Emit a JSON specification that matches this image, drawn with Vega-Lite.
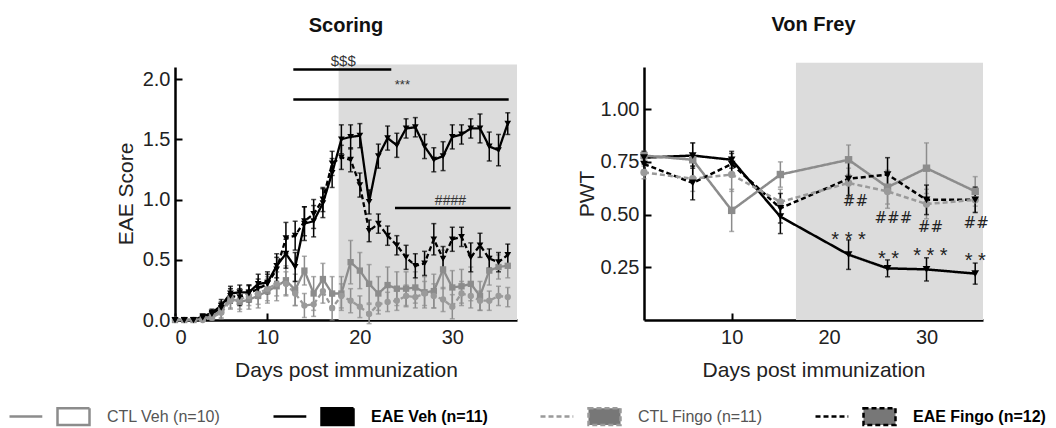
{
 "$schema": "https://vega.github.io/schema/vega-lite/v6.json",
 "padding": {"left": 8, "top": 14, "right": 4, "bottom": 4},
 "background": "white",
 "config": {
  "view": {"stroke": null},
  "font": "Liberation Sans",
  "axis": {"grid": false, "domainColor": "#000", "domainWidth": 2.5, "tickColor": "#000", "tickWidth": 2, "tickSize": -7, "labelFontSize": 20, "labelColor": "#222", "titleFontSize": 21, "titleFontWeight": "normal", "titleColor": "#222", "labelPadding": 12, "labelFont": "Liberation Sans", "titleFont": "Liberation Sans"},
  "axisX": {"labelPadding": 14, "titlePadding": 12},
  "title": {"fontSize": 20, "fontWeight": "bold", "color": "#111", "font": "Liberation Sans"}
 },
 "datasets": {
  "score": [
   {"day":0,"group":"EAE Veh","mean":0,"err":0},{"day":1,"group":"EAE Veh","mean":0,"err":0},{"day":2,"group":"EAE Veh","mean":0,"err":0},{"day":3,"group":"EAE Veh","mean":0.03,"err":0.02},{"day":4,"group":"EAE Veh","mean":0.06,"err":0.03},{"day":5,"group":"EAE Veh","mean":0.12,"err":0.05},{"day":6,"group":"EAE Veh","mean":0.22,"err":0.06},{"day":7,"group":"EAE Veh","mean":0.23,"err":0.06},{"day":8,"group":"EAE Veh","mean":0.23,"err":0.06},{"day":9,"group":"EAE Veh","mean":0.3,"err":0.08},{"day":10,"group":"EAE Veh","mean":0.31,"err":0.09},{"day":11,"group":"EAE Veh","mean":0.45,"err":0.1},{"day":12,"group":"EAE Veh","mean":0.55,"err":0.12},{"day":13,"group":"EAE Veh","mean":0.44,"err":0.12},{"day":14,"group":"EAE Veh","mean":0.8,"err":0.14},{"day":15,"group":"EAE Veh","mean":0.82,"err":0.13},{"day":16,"group":"EAE Veh","mean":0.97,"err":0.12},{"day":17,"group":"EAE Veh","mean":1.22,"err":0.12},{"day":18,"group":"EAE Veh","mean":1.5,"err":0.12},{"day":19,"group":"EAE Veh","mean":1.52,"err":0.1},{"day":20,"group":"EAE Veh","mean":1.53,"err":0.1},{"day":21,"group":"EAE Veh","mean":0.98,"err":0.1},{"day":22,"group":"EAE Veh","mean":1.36,"err":0.1},{"day":23,"group":"EAE Veh","mean":1.51,"err":0.1},{"day":24,"group":"EAE Veh","mean":1.45,"err":0.1},{"day":25,"group":"EAE Veh","mean":1.59,"err":0.08},{"day":26,"group":"EAE Veh","mean":1.6,"err":0.08},{"day":27,"group":"EAE Veh","mean":1.44,"err":0.1},{"day":28,"group":"EAE Veh","mean":1.33,"err":0.1},{"day":29,"group":"EAE Veh","mean":1.36,"err":0.12},{"day":30,"group":"EAE Veh","mean":1.52,"err":0.1},{"day":31,"group":"EAE Veh","mean":1.54,"err":0.08},{"day":32,"group":"EAE Veh","mean":1.59,"err":0.08},{"day":33,"group":"EAE Veh","mean":1.59,"err":0.12},{"day":34,"group":"EAE Veh","mean":1.44,"err":0.12},{"day":35,"group":"EAE Veh","mean":1.41,"err":0.13},{"day":36,"group":"EAE Veh","mean":1.63,"err":0.09},
   {"day":0,"group":"EAE Fingo","mean":0,"err":0},{"day":1,"group":"EAE Fingo","mean":0,"err":0},{"day":2,"group":"EAE Fingo","mean":0,"err":0},{"day":3,"group":"EAE Fingo","mean":0.02,"err":0.02},{"day":4,"group":"EAE Fingo","mean":0.05,"err":0.03},{"day":5,"group":"EAE Fingo","mean":0.1,"err":0.05},{"day":6,"group":"EAE Fingo","mean":0.2,"err":0.06},{"day":7,"group":"EAE Fingo","mean":0.19,"err":0.07},{"day":8,"group":"EAE Fingo","mean":0.22,"err":0.07},{"day":9,"group":"EAE Fingo","mean":0.26,"err":0.08},{"day":10,"group":"EAE Fingo","mean":0.3,"err":0.08},{"day":11,"group":"EAE Fingo","mean":0.42,"err":0.1},{"day":12,"group":"EAE Fingo","mean":0.68,"err":0.13},{"day":13,"group":"EAE Fingo","mean":0.7,"err":0.12},{"day":14,"group":"EAE Fingo","mean":0.82,"err":0.12},{"day":15,"group":"EAE Fingo","mean":0.88,"err":0.12},{"day":16,"group":"EAE Fingo","mean":1.0,"err":0.1},{"day":17,"group":"EAE Fingo","mean":1.3,"err":0.1},{"day":18,"group":"EAE Fingo","mean":1.35,"err":0.1},{"day":19,"group":"EAE Fingo","mean":1.33,"err":0.1},{"day":20,"group":"EAE Fingo","mean":1.12,"err":0.1},{"day":21,"group":"EAE Fingo","mean":0.74,"err":0.09},{"day":22,"group":"EAE Fingo","mean":0.8,"err":0.08},{"day":23,"group":"EAE Fingo","mean":0.7,"err":0.08},{"day":24,"group":"EAE Fingo","mean":0.62,"err":0.08},{"day":25,"group":"EAE Fingo","mean":0.52,"err":0.1},{"day":26,"group":"EAE Fingo","mean":0.45,"err":0.1},{"day":27,"group":"EAE Fingo","mean":0.47,"err":0.1},{"day":28,"group":"EAE Fingo","mean":0.67,"err":0.13},{"day":29,"group":"EAE Fingo","mean":0.51,"err":0.1},{"day":30,"group":"EAE Fingo","mean":0.67,"err":0.1},{"day":31,"group":"EAE Fingo","mean":0.69,"err":0.08},{"day":32,"group":"EAE Fingo","mean":0.52,"err":0.12},{"day":33,"group":"EAE Fingo","mean":0.62,"err":0.1},{"day":34,"group":"EAE Fingo","mean":0.51,"err":0.08},{"day":35,"group":"EAE Fingo","mean":0.48,"err":0.08},{"day":36,"group":"EAE Fingo","mean":0.54,"err":0.09},
   {"day":0,"group":"CTL Veh","mean":0,"err":0.01},{"day":1,"group":"CTL Veh","mean":0,"err":0.01},{"day":2,"group":"CTL Veh","mean":0,"err":0.01},{"day":3,"group":"CTL Veh","mean":0.01,"err":0.02},{"day":4,"group":"CTL Veh","mean":0.03,"err":0.03},{"day":5,"group":"CTL Veh","mean":0.08,"err":0.06},{"day":6,"group":"CTL Veh","mean":0.18,"err":0.08},{"day":7,"group":"CTL Veh","mean":0.15,"err":0.08},{"day":8,"group":"CTL Veh","mean":0.17,"err":0.08},{"day":9,"group":"CTL Veh","mean":0.2,"err":0.1},{"day":10,"group":"CTL Veh","mean":0.24,"err":0.1},{"day":11,"group":"CTL Veh","mean":0.28,"err":0.12},{"day":12,"group":"CTL Veh","mean":0.33,"err":0.12},{"day":13,"group":"CTL Veh","mean":0.25,"err":0.13},{"day":14,"group":"CTL Veh","mean":0.41,"err":0.12},{"day":15,"group":"CTL Veh","mean":0.22,"err":0.14},{"day":16,"group":"CTL Veh","mean":0.34,"err":0.13},{"day":17,"group":"CTL Veh","mean":0.22,"err":0.14},{"day":18,"group":"CTL Veh","mean":0.22,"err":0.14},{"day":19,"group":"CTL Veh","mean":0.48,"err":0.18},{"day":20,"group":"CTL Veh","mean":0.41,"err":0.15},{"day":21,"group":"CTL Veh","mean":0.3,"err":0.16},{"day":22,"group":"CTL Veh","mean":0.22,"err":0.14},{"day":23,"group":"CTL Veh","mean":0.29,"err":0.15},{"day":24,"group":"CTL Veh","mean":0.26,"err":0.14},{"day":25,"group":"CTL Veh","mean":0.26,"err":0.14},{"day":26,"group":"CTL Veh","mean":0.27,"err":0.13},{"day":27,"group":"CTL Veh","mean":0.23,"err":0.13},{"day":28,"group":"CTL Veh","mean":0.24,"err":0.14},{"day":29,"group":"CTL Veh","mean":0.42,"err":0.16},{"day":30,"group":"CTL Veh","mean":0.27,"err":0.14},{"day":31,"group":"CTL Veh","mean":0.28,"err":0.14},{"day":32,"group":"CTL Veh","mean":0.3,"err":0.14},{"day":33,"group":"CTL Veh","mean":0.2,"err":0.12},{"day":34,"group":"CTL Veh","mean":0.41,"err":0.12},{"day":35,"group":"CTL Veh","mean":0.44,"err":0.1},{"day":36,"group":"CTL Veh","mean":0.45,"err":0.1},
   {"day":0,"group":"CTL Fingo","mean":0,"err":0.01},{"day":1,"group":"CTL Fingo","mean":0,"err":0.01},{"day":2,"group":"CTL Fingo","mean":0,"err":0.01},{"day":3,"group":"CTL Fingo","mean":0,"err":0.01},{"day":4,"group":"CTL Fingo","mean":0.02,"err":0.02},{"day":5,"group":"CTL Fingo","mean":0.06,"err":0.05},{"day":6,"group":"CTL Fingo","mean":0.16,"err":0.07},{"day":7,"group":"CTL Fingo","mean":0.17,"err":0.08},{"day":8,"group":"CTL Fingo","mean":0.2,"err":0.08},{"day":9,"group":"CTL Fingo","mean":0.22,"err":0.09},{"day":10,"group":"CTL Fingo","mean":0.26,"err":0.1},{"day":11,"group":"CTL Fingo","mean":0.3,"err":0.1},{"day":12,"group":"CTL Fingo","mean":0.3,"err":0.1},{"day":13,"group":"CTL Fingo","mean":0.22,"err":0.1},{"day":14,"group":"CTL Fingo","mean":0.12,"err":0.1},{"day":15,"group":"CTL Fingo","mean":0.13,"err":0.1},{"day":16,"group":"CTL Fingo","mean":0.24,"err":0.1},{"day":17,"group":"CTL Fingo","mean":0.1,"err":0.1},{"day":18,"group":"CTL Fingo","mean":0.2,"err":0.1},{"day":19,"group":"CTL Fingo","mean":0.16,"err":0.1},{"day":20,"group":"CTL Fingo","mean":0.11,"err":0.09},{"day":21,"group":"CTL Fingo","mean":0.05,"err":0.08},{"day":22,"group":"CTL Fingo","mean":0.13,"err":0.08},{"day":23,"group":"CTL Fingo","mean":0.15,"err":0.08},{"day":24,"group":"CTL Fingo","mean":0.16,"err":0.08},{"day":25,"group":"CTL Fingo","mean":0.2,"err":0.09},{"day":26,"group":"CTL Fingo","mean":0.19,"err":0.09},{"day":27,"group":"CTL Fingo","mean":0.22,"err":0.1},{"day":28,"group":"CTL Fingo","mean":0.2,"err":0.1},{"day":29,"group":"CTL Fingo","mean":0.17,"err":0.1},{"day":30,"group":"CTL Fingo","mean":0.11,"err":0.1},{"day":31,"group":"CTL Fingo","mean":0.22,"err":0.1},{"day":32,"group":"CTL Fingo","mean":0.2,"err":0.1},{"day":33,"group":"CTL Fingo","mean":0.16,"err":0.08},{"day":34,"group":"CTL Fingo","mean":0.16,"err":0.08},{"day":35,"group":"CTL Fingo","mean":0.2,"err":0.08},{"day":36,"group":"CTL Fingo","mean":0.19,"err":0.08}
  ],
  "vf": [
   {"day":1,"group":"EAE Veh","mean":0.77,"err":0.03},{"day":6,"group":"EAE Veh","mean":0.78,"err":0.06},{"day":10,"group":"EAE Veh","mean":0.76,"err":0.04},{"day":15,"group":"EAE Veh","mean":0.49,"err":0.08},{"day":22,"group":"EAE Veh","mean":0.31,"err":0.07},{"day":26,"group":"EAE Veh","mean":0.245,"err":0.04},{"day":30,"group":"EAE Veh","mean":0.24,"err":0.055},{"day":35,"group":"EAE Veh","mean":0.22,"err":0.05},
   {"day":1,"group":"CTL Veh","mean":0.78,"err":0.02},{"day":6,"group":"CTL Veh","mean":0.76,"err":0.08},{"day":10,"group":"CTL Veh","mean":0.52,"err":0.1},{"day":15,"group":"CTL Veh","mean":0.69,"err":0.06},{"day":22,"group":"CTL Veh","mean":0.76,"err":0.07},{"day":26,"group":"CTL Veh","mean":0.63,"err":0.08},{"day":30,"group":"CTL Veh","mean":0.72,"err":0.12},{"day":35,"group":"CTL Veh","mean":0.61,"err":0.07},
   {"day":1,"group":"EAE Fingo","mean":0.74,"err":0.03},{"day":6,"group":"EAE Fingo","mean":0.65,"err":0.08},{"day":10,"group":"EAE Fingo","mean":0.74,"err":0.05},{"day":15,"group":"EAE Fingo","mean":0.53,"err":0.07},{"day":22,"group":"EAE Fingo","mean":0.67,"err":0.08},{"day":26,"group":"EAE Fingo","mean":0.69,"err":0.08},{"day":30,"group":"EAE Fingo","mean":0.57,"err":0.07},{"day":35,"group":"EAE Fingo","mean":0.57,"err":0.06},
   {"day":1,"group":"CTL Fingo","mean":0.7,"err":0.03},{"day":6,"group":"CTL Fingo","mean":0.67,"err":0.06},{"day":10,"group":"CTL Fingo","mean":0.69,"err":0.08},{"day":15,"group":"CTL Fingo","mean":0.56,"err":0.06},{"day":22,"group":"CTL Fingo","mean":0.65,"err":0.07},{"day":26,"group":"CTL Fingo","mean":0.61,"err":0.08},{"day":30,"group":"CTL Fingo","mean":0.55,"err":0.07},{"day":35,"group":"CTL Fingo","mean":0.57,"err":0.06}
  ],
  "scoreRect": [{"x":17.7,"x2":37,"y":0,"y2":2.12}],
  "vfRect": [{"x":16.6,"x2":35.8,"y":0,"y2":1.22}],
  "scoreSpans": [{"x":12.8,"x2":23.4,"y":2.08},{"x":12.8,"x2":36.1,"y":1.83},{"x":23.8,"x2":36.3,"y":0.93}],
  "scoreText": [{"x":18.2,"y":2.15,"text":"$$$","size":15},{"x":24.6,"y":1.95,"text":"***","size":13},{"x":29.8,"y":0.99,"text":"####","size":14}],
  "vfHash": [{"x":22.7,"y":0.566,"text":"##"},{"x":26.6,"y":0.486,"text":"###"},{"x":30.4,"y":0.443,"text":"##"},{"x":35.1,"y":0.462,"text":"##"}],
  "vfStar": [{"x":22,"y":0.41,"text":"* * *"},{"x":26.1,"y":0.316,"text":"* *"},{"x":30.4,"y":0.33,"text":"* * *"},{"x":35,"y":0.307,"text":"* *"}]
 },
 "spacing": 59,
 "resolve": {"scale": {"color": "shared", "strokeDash": "shared"}, "legend": {"color": "shared", "strokeDash": "shared"}},
 "hconcat": [
  {
   "width": 342, "height": 253,
   "title": {"text": "Scoring", "offset": 18},
   "encoding": {
    "x": {"field": "day", "type": "quantitative", "title": "Days post immunization"},
    "y": {"field": "mean", "type": "quantitative", "title": "EAE Score"}
   },
   "layer": [
    {"data": {"name": "scoreRect"}, "mark": {"type": "rect", "color": "#dcdcdc"},
     "encoding": {
      "x": {"field": "x", "type": "quantitative", "title": "Days post immunization", "scale": {"domain": [0, 37], "nice": false, "zero": false}, "axis": {"values": [0, 10, 20, 30]}},
      "x2": {"field": "x2"},
      "y": {"field": "y", "type": "quantitative", "title": "EAE Score", "scale": {"domain": [0, 2.1], "nice": false}, "axis": {"values": [0, 0.5, 1, 1.5, 2], "format": ".1f", "titlePadding": 6}},
      "y2": {"field": "y2"}}},
    {"data": {"name": "score"}, "transform": [{"filter": "indexof(datum.group, 'CTL') >= 0"}],
     "mark": {"type": "errorbar", "ticks": true, "color": "#8c8c8c", "thickness": 1.5},
     "encoding": {"yError": {"field": "err"}}},
    {"data": {"name": "score"}, "transform": [{"filter": "indexof(datum.group, 'EAE') >= 0"}],
     "mark": {"type": "errorbar", "ticks": true, "color": "#000", "thickness": 1.5},
     "encoding": {"yError": {"field": "err"}}},
    {"data": {"name": "score"}, "mark": {"type": "line", "strokeWidth": 2.3},
     "encoding": {
      "color": {"field": "group", "type": "nominal", "scale": {"domain": ["CTL Veh", "EAE Veh", "CTL Fingo", "EAE Fingo"], "range": ["#8c8c8c", "#000000", "#9a9a9a", "#000000"]},
       "legend": {"orient": "none", "legendX": -167, "legendY": 308, "direction": "horizontal", "columns": 4, "title": null, "symbolType": "M-1,0H-0.18M0.2,-0.21H1V0.21H0.2Z", "symbolSize": 6400, "symbolStrokeWidth": 2.5, "labelFontSize": 16, "labelFont": "Liberation Sans", "columnPadding": 47, "labelOffset": 16,
        "labelExpr": "datum.label == 'CTL Veh' ? 'CTL Veh (n=10)' : datum.label == 'EAE Veh' ? 'EAE Veh (n=11)' : datum.label == 'CTL Fingo' ? 'CTL Fingo (n=11)' : 'EAE Fingo (n=12)'",
        "encode": {"symbols": {"update": {"fill": {"signal": "datum.value == 'CTL Veh' ? '#ffffff' : datum.value == 'EAE Veh' ? '#000000' : '#777777'"}, "fillOpacity": {"value": 1}}}, "labels": {"update": {"fill": {"signal": "indexof(datum.label, 'EAE') >= 0 ? '#000' : '#555'"}, "fontWeight": {"signal": "indexof(datum.label, 'EAE') >= 0 ? 'bold' : 'normal'"}}}}}},
      "strokeDash": {"field": "group", "type": "nominal", "scale": {"domain": ["CTL Veh", "EAE Veh", "CTL Fingo", "EAE Fingo"], "range": [[1, 0], [1, 0], [5, 3], [5, 3]]},
       "legend": {"orient": "none", "legendX": -167, "legendY": 308, "direction": "horizontal", "columns": 4, "title": null, "symbolType": "M-1,0H-0.18M0.2,-0.21H1V0.21H0.2Z", "symbolSize": 6400, "symbolStrokeWidth": 2.5, "labelFontSize": 16, "labelFont": "Liberation Sans", "columnPadding": 47, "labelOffset": 16,
        "labelExpr": "datum.label == 'CTL Veh' ? 'CTL Veh (n=10)' : datum.label == 'EAE Veh' ? 'EAE Veh (n=11)' : datum.label == 'CTL Fingo' ? 'CTL Fingo (n=11)' : 'EAE Fingo (n=12)'",
        "encode": {"symbols": {"update": {"fill": {"signal": "datum.value == 'CTL Veh' ? '#ffffff' : datum.value == 'EAE Veh' ? '#000000' : '#777777'"}, "fillOpacity": {"value": 1}}}, "labels": {"update": {"fill": {"signal": "indexof(datum.label, 'EAE') >= 0 ? '#000' : '#555'"}, "fontWeight": {"signal": "indexof(datum.label, 'EAE') >= 0 ? 'bold' : 'normal'"}}}}}}}},
    {"data": {"name": "score"}, "transform": [{"filter": "datum.group == 'CTL Veh'"}], "mark": {"type": "point", "filled": true, "size": 40, "opacity": 1, "shape": "square", "color": "#8c8c8c"}},
    {"data": {"name": "score"}, "transform": [{"filter": "datum.group == 'CTL Fingo'"}], "mark": {"type": "point", "filled": true, "size": 40, "opacity": 1, "shape": "circle", "color": "#9a9a9a"}},
    {"data": {"name": "score"}, "transform": [{"filter": "indexof(datum.group, 'EAE') >= 0"}], "mark": {"type": "point", "filled": true, "size": 45, "opacity": 1, "shape": "triangle-down", "color": "#000"}},
    {"data": {"name": "scoreSpans"}, "mark": {"type": "rule", "strokeWidth": 2.5, "color": "#000"},
     "encoding": {"x": {"field": "x", "type": "quantitative", "title": "Days post immunization"}, "x2": {"field": "x2"}, "y": {"field": "y", "type": "quantitative", "title": "EAE Score"}}},
    {"data": {"name": "scoreText"}, "mark": {"type": "text", "color": "#333", "font": "Liberation Sans"},
     "encoding": {"x": {"field": "x", "type": "quantitative", "title": "Days post immunization"}, "y": {"field": "y", "type": "quantitative", "title": "EAE Score"}, "text": {"field": "text"}, "size": {"field": "size", "type": "quantitative", "scale": null}}}
   ]
  },
  {
   "width": 339, "height": 253,
   "title": {"text": "Von Frey", "offset": 28},
   "encoding": {
    "x": {"field": "day", "type": "quantitative", "title": "Days post immunization"},
    "y": {"field": "mean", "type": "quantitative", "title": "PWT"}
   },
   "layer": [
    {"data": {"name": "vfRect"}, "mark": {"type": "rect", "color": "#dcdcdc"},
     "encoding": {
      "x": {"field": "x", "type": "quantitative", "title": "Days post immunization", "scale": {"domain": [1, 35.8], "nice": false, "zero": false}, "axis": {"values": [10, 20, 30]}},
      "x2": {"field": "x2"},
      "y": {"field": "y", "type": "quantitative", "title": "PWT", "scale": {"domain": [0, 1.2], "nice": false}, "axis": {"values": [0.25, 0.5, 0.75, 1.0], "format": ".2f", "titlePadding": 3}},
      "y2": {"field": "y2"}}},
    {"data": {"name": "vf"}, "transform": [{"filter": "indexof(datum.group, 'CTL') >= 0"}],
     "mark": {"type": "errorbar", "ticks": true, "color": "#8c8c8c", "thickness": 1.5},
     "encoding": {"yError": {"field": "err"}}},
    {"data": {"name": "vf"}, "transform": [{"filter": "indexof(datum.group, 'EAE') >= 0"}],
     "mark": {"type": "errorbar", "ticks": true, "color": "#000", "thickness": 1.5},
     "encoding": {"yError": {"field": "err"}}},
    {"data": {"name": "vf"}, "mark": {"type": "line", "strokeWidth": 2.5},
     "encoding": {
      "color": {"field": "group", "type": "nominal", "scale": {"domain": ["CTL Veh", "EAE Veh", "CTL Fingo", "EAE Fingo"], "range": ["#8c8c8c", "#000000", "#9a9a9a", "#000000"]}},
      "strokeDash": {"field": "group", "type": "nominal", "scale": {"domain": ["CTL Veh", "EAE Veh", "CTL Fingo", "EAE Fingo"], "range": [[1, 0], [1, 0], [5, 3], [5, 3]]}}}},
    {"data": {"name": "vf"}, "transform": [{"filter": "datum.group == 'CTL Veh'"}], "mark": {"type": "point", "filled": true, "size": 55, "opacity": 1, "shape": "square", "color": "#8c8c8c"}},
    {"data": {"name": "vf"}, "transform": [{"filter": "datum.group == 'CTL Fingo'"}], "mark": {"type": "point", "filled": true, "size": 55, "opacity": 1, "shape": "circle", "color": "#9a9a9a"}},
    {"data": {"name": "vf"}, "transform": [{"filter": "indexof(datum.group, 'EAE') >= 0"}], "mark": {"type": "point", "filled": true, "size": 60, "opacity": 1, "shape": "triangle-down", "color": "#000"}},
    {"data": {"name": "vfHash"}, "mark": {"type": "text", "fontSize": 15, "color": "#222", "font": "DejaVu Sans"},
     "encoding": {"x": {"field": "x", "type": "quantitative", "title": "Days post immunization"}, "y": {"field": "y", "type": "quantitative", "title": "PWT"}, "text": {"field": "text"}}},
    {"data": {"name": "vfStar"}, "mark": {"type": "text", "fontSize": 20, "dy": 6, "color": "#222", "font": "Liberation Sans"},
     "encoding": {"x": {"field": "x", "type": "quantitative", "title": "Days post immunization"}, "y": {"field": "y", "type": "quantitative", "title": "PWT"}, "text": {"field": "text"}}}
   ]
  }
 ]
}
